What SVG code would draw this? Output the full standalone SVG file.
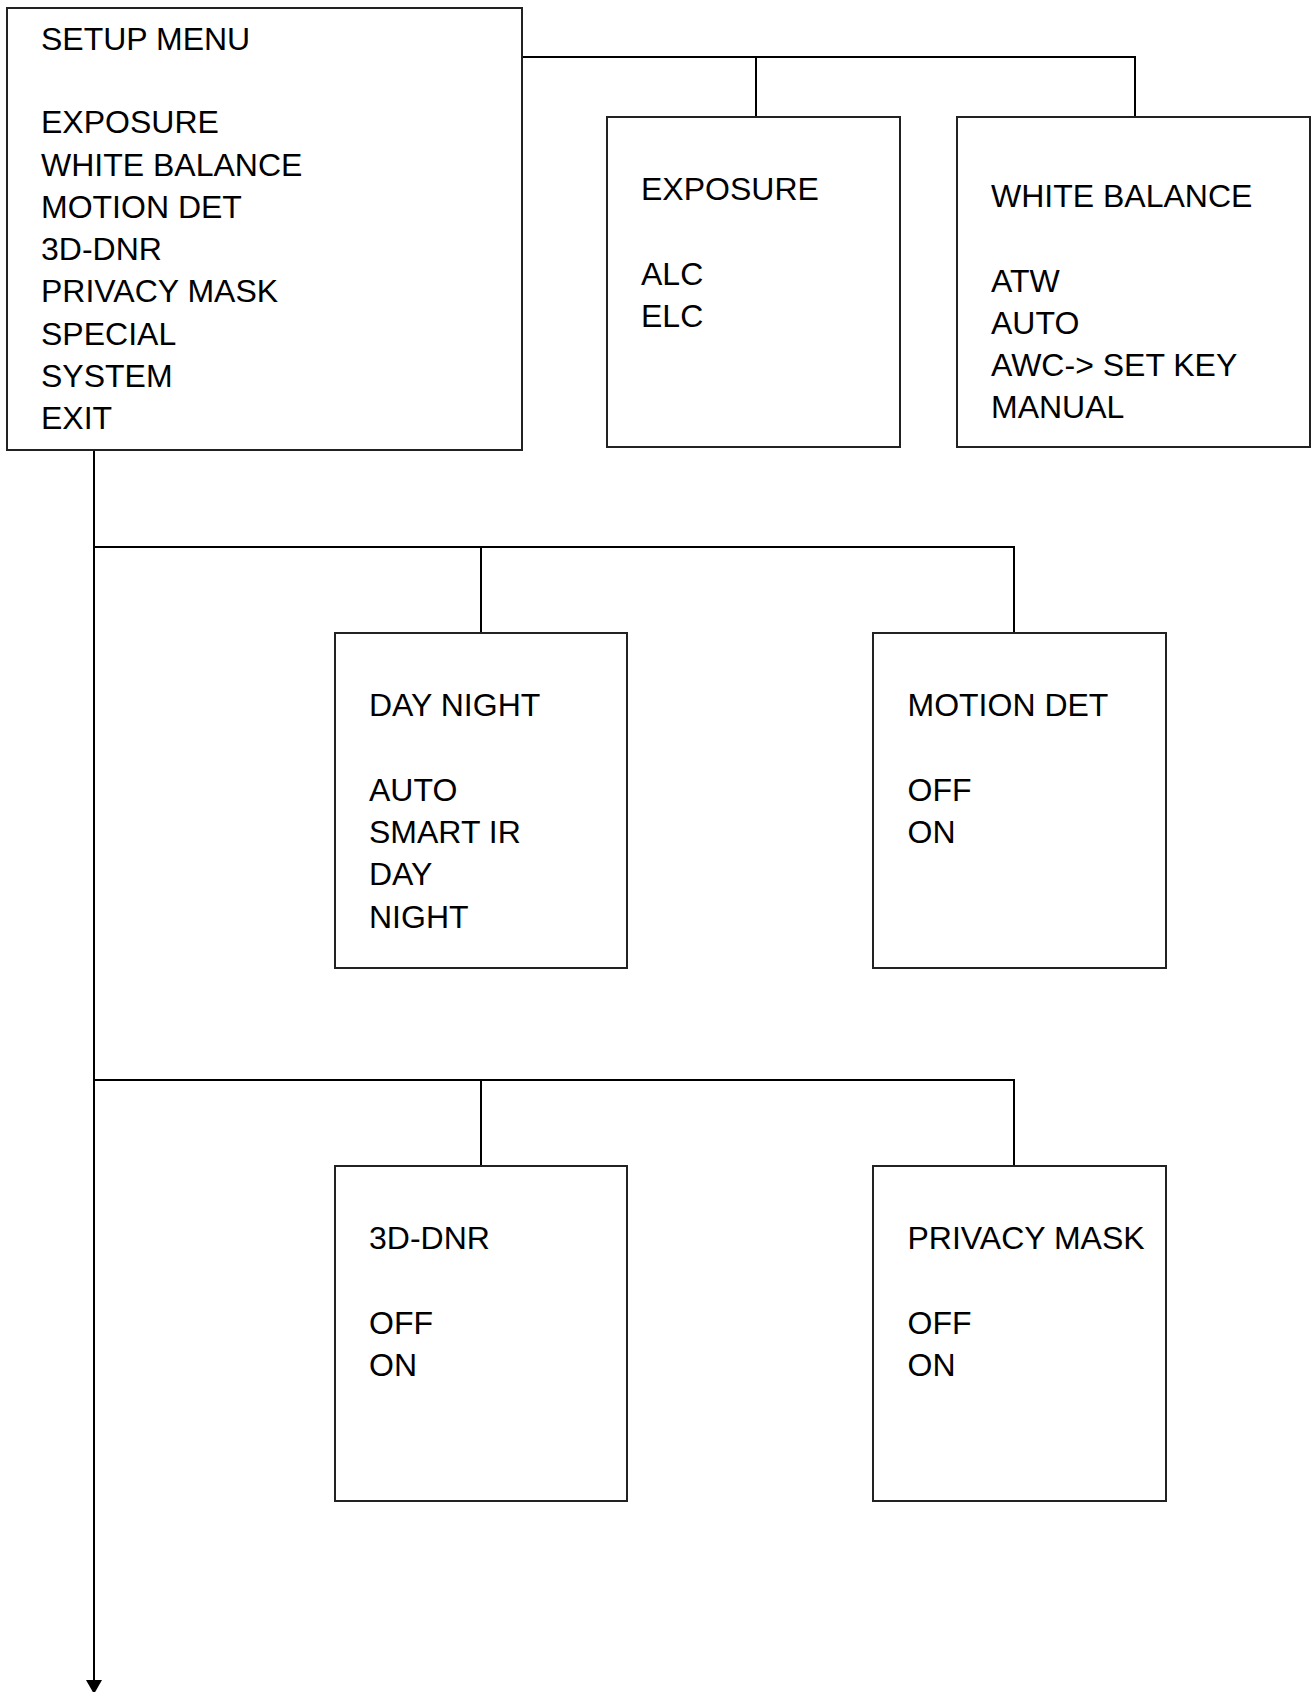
<svg xmlns="http://www.w3.org/2000/svg" width="1312" height="1692" viewBox="0 0 1312 1692">
<style>
.box{fill:#fff;stroke:#222;stroke-width:2}
.t{font-family:"Liberation Sans",Arial,sans-serif;font-size:32px;fill:#000}
.c{fill:none;stroke:#000;stroke-width:2}
</style>
<defs>
<marker id="arr" markerUnits="userSpaceOnUse" markerWidth="16" markerHeight="14" refX="8" refY="14" orient="auto-start-reverse" viewBox="0 0 16 14">
<path d="M0,0 L16,0 L8,14 Z" fill="#000"/>
</marker>
</defs>
<rect width="1312" height="1692" fill="#fff"/>
<g id="connectors">
<polyline class="c" points="522,57 1135,57 1135,117"/>
<line class="c" x1="756" y1="57" x2="756" y2="117"/>
<line class="c" x1="94" y1="450" x2="94" y2="1680"/>
<path d="M86,1680 L102,1680 L94,1694 Z" fill="#000"/>
<polyline class="c" points="94,547 1014,547 1014,633"/>
<line class="c" x1="481" y1="547" x2="481" y2="633"/>
<polyline class="c" points="94,1080 1014,1080 1014,1166"/>
<line class="c" x1="481" y1="1080" x2="481" y2="1166"/>
</g>
<g id="setup-menu">
<rect class="box" x="7" y="8" width="515" height="442"/>
<text class="t" x="41" y="49.5">SETUP MENU</text>
<text class="t" x="41" y="132.7">EXPOSURE</text>
<text class="t" x="41" y="175.5">WHITE BALANCE</text>
<text class="t" x="41" y="217.5">MOTION DET</text>
<text class="t" x="41" y="260">3D-DNR</text>
<text class="t" x="41" y="302.3">PRIVACY MASK</text>
<text class="t" x="41" y="344.5">SPECIAL</text>
<text class="t" x="41" y="386.7">SYSTEM</text>
<text class="t" x="41" y="429">EXIT</text>
</g>
<g id="exposure">
<rect class="box" x="607" y="117" width="293" height="330"/>
<text class="t" x="641" y="200">EXPOSURE</text>
<text class="t" x="641" y="285">ALC</text>
<text class="t" x="641" y="326.7">ELC</text>
</g>
<g id="white-balance">
<rect class="box" x="957" y="117" width="353" height="330"/>
<text class="t" x="991" y="206.7">WHITE BALANCE</text>
<text class="t" x="991" y="291.7">ATW</text>
<text class="t" x="991" y="333.5">AUTO</text>
<text class="t" x="991" y="375.7">AWC-&gt; SET KEY</text>
<text class="t" x="991" y="417.7">MANUAL</text>
</g>
<g id="day-night">
<rect class="box" x="335" y="633" width="292" height="335"/>
<text class="t" x="369" y="716">DAY NIGHT</text>
<text class="t" x="369" y="800.5">AUTO</text>
<text class="t" x="369" y="843">SMART IR</text>
<text class="t" x="369" y="885">DAY</text>
<text class="t" x="369" y="928">NIGHT</text>
</g>
<g id="motion-det">
<rect class="box" x="873" y="633" width="293" height="335"/>
<text class="t" x="907.5" y="716">MOTION DET</text>
<text class="t" x="907.5" y="800.5">OFF</text>
<text class="t" x="907.5" y="843">ON</text>
</g>
<g id="dnr">
<rect class="box" x="335" y="1166" width="292" height="335"/>
<text class="t" x="369" y="1249">3D-DNR</text>
<text class="t" x="369" y="1333.5">OFF</text>
<text class="t" x="369" y="1376">ON</text>
</g>
<g id="privacy-mask">
<rect class="box" x="873" y="1166" width="293" height="335"/>
<text class="t" x="907.5" y="1249">PRIVACY MASK</text>
<text class="t" x="907.5" y="1333.5">OFF</text>
<text class="t" x="907.5" y="1376">ON</text>
</g>
</svg>
